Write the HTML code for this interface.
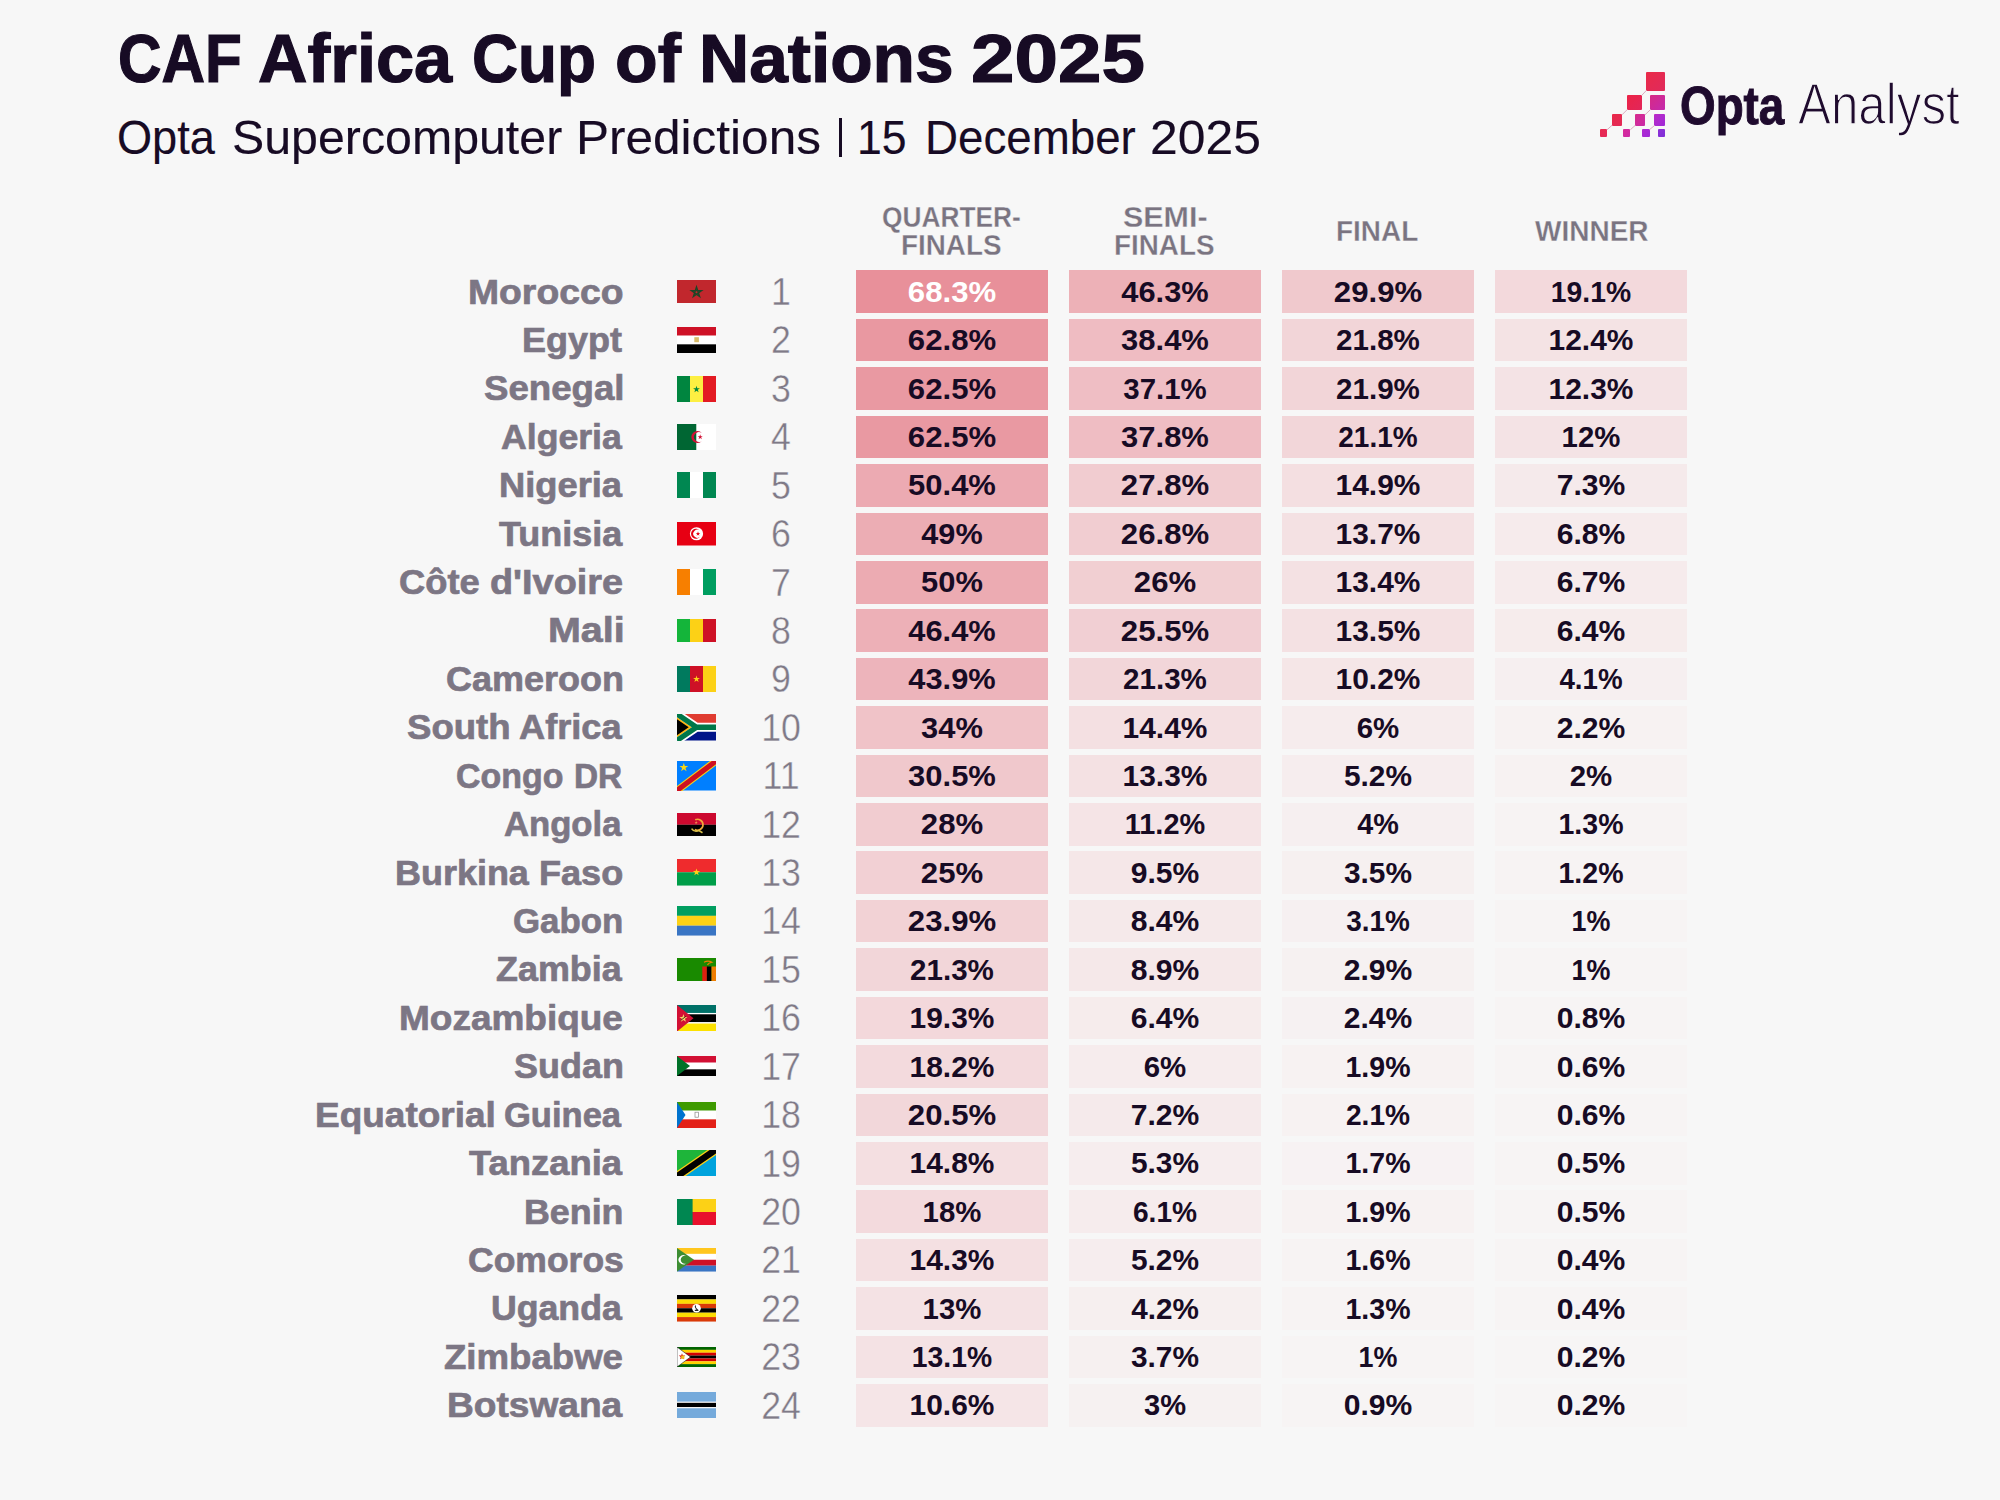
<!DOCTYPE html>
<html><head><meta charset="utf-8"><style>
html,body{margin:0;padding:0;}
body{width:2000px;height:1500px;background:#f7f7f7;position:relative;overflow:hidden;font-family:"Liberation Sans",sans-serif;}
.t{position:absolute;white-space:nowrap;transform-origin:0 0;}
.b{position:absolute;}
.rk{position:absolute;left:741px;width:80px;text-align:center;font-size:38px;line-height:38px;color:#7f7a87;-webkit-text-stroke:0.4px #f7f7f7;transform:scaleX(0.94);transform-origin:40px 0;}
.c{position:absolute;width:192px;height:42.6px;}
.c span{position:absolute;left:0;width:192px;text-align:center;font-size:30px;line-height:30px;font-weight:bold;}
.f{position:absolute;left:677px;width:39px;display:block;}
</style></head><body>
<div class="t" style="left:117.62px;top:24.34px;font-size:68px;line-height:68px;font-weight:bold;color:#170b24;transform:scaleX(0.8862);-webkit-text-stroke:1.2px #170b24">CAF</div>
<div class="t" style="left:257.93px;top:24.34px;font-size:68px;line-height:68px;font-weight:bold;color:#170b24;transform:scaleX(1.0072);-webkit-text-stroke:1.2px #170b24">Africa</div>
<div class="t" style="left:471.51px;top:24.34px;font-size:68px;line-height:68px;font-weight:bold;color:#170b24;transform:scaleX(0.9387);-webkit-text-stroke:1.2px #170b24">Cup</div>
<div class="t" style="left:614.82px;top:24.34px;font-size:68px;line-height:68px;font-weight:bold;color:#170b24;transform:scaleX(1.0273);-webkit-text-stroke:1.2px #170b24">of</div>
<div class="t" style="left:699.16px;top:24.34px;font-size:68px;line-height:68px;font-weight:bold;color:#170b24;transform:scaleX(1.0213);-webkit-text-stroke:1.2px #170b24">Nations</div>
<div class="t" style="left:971.06px;top:24.34px;font-size:68px;line-height:68px;font-weight:bold;color:#170b24;transform:scaleX(1.1495);-webkit-text-stroke:1.2px #170b24">2025</div>
<div class="t" style="left:117.38px;top:114.17px;font-size:48px;line-height:48px;font-weight:normal;color:#170b24;transform:scaleX(0.9401);-webkit-text-stroke:0.15px #170b24">Opta</div>
<div class="t" style="left:231.99px;top:114.17px;font-size:48px;line-height:48px;font-weight:normal;color:#170b24;transform:scaleX(1.0063);-webkit-text-stroke:0.15px #170b24">Supercomputer</div>
<div class="t" style="left:576.13px;top:114.17px;font-size:48px;line-height:48px;font-weight:normal;color:#170b24;transform:scaleX(1.0315);-webkit-text-stroke:0.15px #170b24">Predictions</div>
<div class="t" style="left:857.21px;top:114.17px;font-size:48px;line-height:48px;font-weight:normal;color:#170b24;transform:scaleX(0.9289);-webkit-text-stroke:0.15px #170b24">15</div>
<div class="t" style="left:925.43px;top:114.17px;font-size:48px;line-height:48px;font-weight:normal;color:#170b24;transform:scaleX(0.9520);-webkit-text-stroke:0.15px #170b24">December</div>
<div class="t" style="left:1150.16px;top:114.17px;font-size:48px;line-height:48px;font-weight:normal;color:#170b24;transform:scaleX(1.0382);-webkit-text-stroke:0.15px #170b24">2025</div>
<div class="b" style="left:839px;top:117.5px;width:3.2px;height:39px;background:#170b24"></div>
<div class="t" style="left:882.18px;top:202.85px;font-size:29px;line-height:29px;font-weight:bold;color:#7a7481;transform:scaleX(0.9068);-webkit-text-stroke:0.3px #f7f7f7">QUARTER-</div>
<div class="t" style="left:901.26px;top:230.85px;font-size:29px;line-height:29px;font-weight:bold;color:#7a7481;transform:scaleX(0.9595);-webkit-text-stroke:0.3px #f7f7f7">FINALS</div>
<div class="t" style="left:1122.52px;top:202.85px;font-size:29px;line-height:29px;font-weight:bold;color:#7a7481;transform:scaleX(1.0499);-webkit-text-stroke:0.3px #f7f7f7">SEMI-</div>
<div class="t" style="left:1114.26px;top:230.85px;font-size:29px;line-height:29px;font-weight:bold;color:#7a7481;transform:scaleX(0.9595);-webkit-text-stroke:0.3px #f7f7f7">FINALS</div>
<div class="t" style="left:1336.25px;top:217.05px;font-size:29px;line-height:29px;font-weight:bold;color:#7a7481;transform:scaleX(0.9631);-webkit-text-stroke:0.3px #f7f7f7">FINAL</div>
<div class="t" style="left:1535.00px;top:217.05px;font-size:29px;line-height:29px;font-weight:bold;color:#7a7481;transform:scaleX(0.9654);-webkit-text-stroke:0.3px #f7f7f7">WINNER</div>
<div class="b" style="left:1646.1px;top:72.2px;width:18.7px;height:18.4px;background:linear-gradient(135deg,#ea2a48,#e02a5c);border-radius:1px"></div>
<div class="b" style="left:1626.8px;top:95.1px;width:15.0px;height:14.8px;background:linear-gradient(135deg,#ec2346,#e2265a);border-radius:1px"></div>
<div class="b" style="left:1650.1px;top:95.1px;width:14.7px;height:14.8px;background:linear-gradient(135deg,#d72a84,#c42aae);border-radius:1px"></div>
<div class="b" style="left:1611.5px;top:114.4px;width:10.8px;height:11.3px;background:linear-gradient(135deg,#ea2848,#e22a58);border-radius:1px"></div>
<div class="b" style="left:1634.8px;top:114.4px;width:10.4px;height:11.3px;background:linear-gradient(135deg,#d82a8c,#c82aa8);border-radius:1px"></div>
<div class="b" style="left:1654.3px;top:114.4px;width:10.5px;height:11.3px;background:linear-gradient(135deg,#bb2ac6,#9f2ad8);border-radius:1px"></div>
<div class="b" style="left:1600.1px;top:129.4px;width:7.4px;height:7.6px;background:linear-gradient(135deg,#ea2a50,#e42a5a);border-radius:1px"></div>
<div class="b" style="left:1623.1px;top:129.4px;width:7.4px;height:7.6px;background:linear-gradient(135deg,#d82a98,#cc2aa8);border-radius:1px"></div>
<div class="b" style="left:1642.4px;top:129.4px;width:7.4px;height:7.6px;background:linear-gradient(135deg,#b02ad0,#a02ad8);border-radius:1px"></div>
<div class="b" style="left:1657.7px;top:129.4px;width:7.4px;height:7.6px;background:linear-gradient(135deg,#9030d8,#7e30d6);border-radius:1px"></div>
<svg style="position:absolute;left:0;top:0" width="2000" height="200"><line x1="1646.6" y1="90.2" x2="1641.6" y2="95.5" stroke="#d9a3b8" stroke-width="0.9"/><line x1="1627.3" y1="109.5" x2="1622.0" y2="114.8" stroke="#d9a3b8" stroke-width="0.9"/><line x1="1612.0" y1="125.3" x2="1607.0" y2="129.8" stroke="#d9a3b8" stroke-width="0.9"/><line x1="1650.6" y1="109.5" x2="1645.0" y2="114.8" stroke="#d9a3b8" stroke-width="0.9"/><line x1="1635.3" y1="125.3" x2="1630.3" y2="129.8" stroke="#d9a3b8" stroke-width="0.9"/><line x1="1654.8" y1="125.3" x2="1649.3" y2="129.8" stroke="#d9a3b8" stroke-width="0.9"/></svg>
<div class="t" style="left:1680.37px;top:77.59px;font-size:54px;line-height:54px;font-weight:bold;color:#1f0b2e;transform:scaleX(0.8483);-webkit-text-stroke:1px #1f0b2e">Opta</div>
<div class="t" style="left:1797.50px;top:75.75px;font-size:57px;line-height:57px;font-weight:normal;color:#1f0b2e;transform:scaleX(0.8658);-webkit-text-stroke:1.4px #f7f7f7">Analyst</div>
<div class="t" style="left:467.77px;top:274.55px;font-size:35.5px;line-height:35.5px;font-weight:bold;color:#7c7684;transform:scaleX(1.0509);-webkit-text-stroke:0.7px #7c7684">Morocco</div>
<div class="rk" style="top:273.03px">1</div>
<div class="c" style="left:856px;top:270.40px;background:#e8909a;color:#ffffff"><span style="top:6.41px;transform:scaleX(1.0382)">68.3%</span></div>
<div class="c" style="left:1069px;top:270.40px;background:#edb1b7;color:#170b24"><span style="top:6.41px;transform:scaleX(1.0267)">46.3%</span></div>
<div class="c" style="left:1282px;top:270.40px;background:#f0c9cd;color:#170b24"><span style="top:6.41px;transform:scaleX(1.0382)">29.9%</span></div>
<div class="c" style="left:1495px;top:270.40px;background:#f3d9dc;color:#170b24"><span style="top:6.41px;transform:scaleX(0.9437)">19.1%</span></div>
<div class="t" style="left:522.25px;top:322.97px;font-size:35.5px;line-height:35.5px;font-weight:bold;color:#7c7684;transform:scaleX(1.0133);-webkit-text-stroke:0.7px #7c7684">Egypt</div>
<div class="rk" style="top:321.45px">2</div>
<div class="c" style="left:856px;top:318.82px;background:#e998a1;color:#170b24"><span style="top:6.41px;transform:scaleX(1.0382)">62.8%</span></div>
<div class="c" style="left:1069px;top:318.82px;background:#efbcc2;color:#170b24"><span style="top:6.41px;transform:scaleX(1.0324)">38.4%</span></div>
<div class="c" style="left:1282px;top:318.82px;background:#f2d5d8;color:#170b24"><span style="top:6.41px;transform:scaleX(0.9856)">21.8%</span></div>
<div class="c" style="left:1495px;top:318.82px;background:#f4e3e4;color:#170b24"><span style="top:6.41px;transform:scaleX(0.9968)">12.4%</span></div>
<div class="t" style="left:483.63px;top:371.39px;font-size:35.5px;line-height:35.5px;font-weight:bold;color:#7c7684;transform:scaleX(1.0323);-webkit-text-stroke:0.7px #7c7684">Senegal</div>
<div class="rk" style="top:369.87px">3</div>
<div class="c" style="left:856px;top:367.24px;background:#e999a2;color:#170b24"><span style="top:6.41px;transform:scaleX(1.0382)">62.5%</span></div>
<div class="c" style="left:1069px;top:367.24px;background:#efbec4;color:#170b24"><span style="top:6.41px;transform:scaleX(0.9802)">37.1%</span></div>
<div class="c" style="left:1282px;top:367.24px;background:#f2d5d8;color:#170b24"><span style="top:6.41px;transform:scaleX(0.9856)">21.9%</span></div>
<div class="c" style="left:1495px;top:367.24px;background:#f4e3e5;color:#170b24"><span style="top:6.41px;transform:scaleX(0.9968)">12.3%</span></div>
<div class="t" style="left:500.94px;top:419.81px;font-size:35.5px;line-height:35.5px;font-weight:bold;color:#7c7684;transform:scaleX(1.0040);-webkit-text-stroke:0.7px #7c7684">Algeria</div>
<div class="rk" style="top:418.29px">4</div>
<div class="c" style="left:856px;top:415.66px;background:#e999a2;color:#170b24"><span style="top:6.41px;transform:scaleX(1.0382)">62.5%</span></div>
<div class="c" style="left:1069px;top:415.66px;background:#efbdc3;color:#170b24"><span style="top:6.41px;transform:scaleX(1.0324)">37.8%</span></div>
<div class="c" style="left:1282px;top:415.66px;background:#f2d6d9;color:#170b24"><span style="top:6.41px;transform:scaleX(0.9331)">21.1%</span></div>
<div class="c" style="left:1495px;top:415.66px;background:#f4e3e5;color:#170b24"><span style="top:6.41px;transform:scaleX(0.9785)">12%</span></div>
<div class="t" style="left:498.73px;top:468.23px;font-size:35.5px;line-height:35.5px;font-weight:bold;color:#7c7684;transform:scaleX(1.0223);-webkit-text-stroke:0.7px #7c7684">Nigeria</div>
<div class="rk" style="top:466.71px">5</div>
<div class="c" style="left:856px;top:464.08px;background:#ecaab2;color:#170b24"><span style="top:6.41px;transform:scaleX(1.0324)">50.4%</span></div>
<div class="c" style="left:1069px;top:464.08px;background:#f1ccd0;color:#170b24"><span style="top:6.41px;transform:scaleX(1.0382)">27.8%</span></div>
<div class="c" style="left:1282px;top:464.08px;background:#f4dfe1;color:#170b24"><span style="top:6.41px;transform:scaleX(0.9968)">14.9%</span></div>
<div class="c" style="left:1495px;top:464.08px;background:#f5eaeb;color:#170b24"><span style="top:6.41px;transform:scaleX(1.0027)">7.3%</span></div>
<div class="t" style="left:498.60px;top:516.65px;font-size:35.5px;line-height:35.5px;font-weight:bold;color:#7c7684;transform:scaleX(1.0127);-webkit-text-stroke:0.7px #7c7684">Tunisia</div>
<div class="rk" style="top:515.13px">6</div>
<div class="c" style="left:856px;top:512.50px;background:#ecadb4;color:#170b24"><span style="top:6.41px;transform:scaleX(1.0215)">49%</span></div>
<div class="c" style="left:1069px;top:512.50px;background:#f1cdd1;color:#170b24"><span style="top:6.41px;transform:scaleX(1.0382)">26.8%</span></div>
<div class="c" style="left:1282px;top:512.50px;background:#f4e1e3;color:#170b24"><span style="top:6.41px;transform:scaleX(0.9968)">13.7%</span></div>
<div class="c" style="left:1495px;top:512.50px;background:#f6ebec;color:#170b24"><span style="top:6.41px;transform:scaleX(1.0027)">6.8%</span></div>
<div class="t" style="left:399.46px;top:565.07px;font-size:35.5px;line-height:35.5px;font-weight:bold;color:#7c7684;transform:scaleX(1.0235);-webkit-text-stroke:0.7px #7c7684">Côte</div>
<div class="t" style="left:489.82px;top:565.07px;font-size:35.5px;line-height:35.5px;font-weight:bold;color:#7c7684;transform:scaleX(1.0656);-webkit-text-stroke:0.7px #7c7684">d&#39;Ivoire</div>
<div class="rk" style="top:563.55px">7</div>
<div class="c" style="left:856px;top:560.92px;background:#ecabb2;color:#170b24"><span style="top:6.41px;transform:scaleX(1.0296)">50%</span></div>
<div class="c" style="left:1069px;top:560.92px;background:#f1cfd2;color:#170b24"><span style="top:6.41px;transform:scaleX(1.0378)">26%</span></div>
<div class="c" style="left:1282px;top:560.92px;background:#f4e1e3;color:#170b24"><span style="top:6.41px;transform:scaleX(0.9968)">13.4%</span></div>
<div class="c" style="left:1495px;top:560.92px;background:#f6ebec;color:#170b24"><span style="top:6.41px;transform:scaleX(1.0027)">6.7%</span></div>
<div class="t" style="left:547.64px;top:613.49px;font-size:35.5px;line-height:35.5px;font-weight:bold;color:#7c7684;transform:scaleX(1.1109);-webkit-text-stroke:0.7px #7c7684">Mali</div>
<div class="rk" style="top:611.97px">8</div>
<div class="c" style="left:856px;top:609.34px;background:#edb0b7;color:#170b24"><span style="top:6.41px;transform:scaleX(1.0267)">46.4%</span></div>
<div class="c" style="left:1069px;top:609.34px;background:#f1cfd3;color:#170b24"><span style="top:6.41px;transform:scaleX(1.0382)">25.5%</span></div>
<div class="c" style="left:1282px;top:609.34px;background:#f4e1e3;color:#170b24"><span style="top:6.41px;transform:scaleX(0.9968)">13.5%</span></div>
<div class="c" style="left:1495px;top:609.34px;background:#f6ecec;color:#170b24"><span style="top:6.41px;transform:scaleX(1.0027)">6.4%</span></div>
<div class="t" style="left:445.78px;top:661.91px;font-size:35.5px;line-height:35.5px;font-weight:bold;color:#7c7684;transform:scaleX(1.0137);-webkit-text-stroke:0.7px #7c7684">Cameroon</div>
<div class="rk" style="top:660.39px">9</div>
<div class="c" style="left:856px;top:657.76px;background:#edb4bb;color:#170b24"><span style="top:6.41px;transform:scaleX(1.0267)">43.9%</span></div>
<div class="c" style="left:1069px;top:657.76px;background:#f2d6d9;color:#170b24"><span style="top:6.41px;transform:scaleX(0.9856)">21.3%</span></div>
<div class="c" style="left:1282px;top:657.76px;background:#f5e6e7;color:#170b24"><span style="top:6.41px;transform:scaleX(0.9968)">10.2%</span></div>
<div class="c" style="left:1495px;top:657.76px;background:#f6eff0;color:#170b24"><span style="top:6.41px;transform:scaleX(0.9242)">4.1%</span></div>
<div class="t" style="left:406.93px;top:710.33px;font-size:35.5px;line-height:35.5px;font-weight:bold;color:#7c7684;transform:scaleX(1.0307);-webkit-text-stroke:0.7px #7c7684">South</div>
<div class="t" style="left:519.03px;top:710.33px;font-size:35.5px;line-height:35.5px;font-weight:bold;color:#7c7684;transform:scaleX(1.0200);-webkit-text-stroke:0.7px #7c7684">Africa</div>
<div class="rk" style="top:708.81px">10</div>
<div class="c" style="left:856px;top:706.18px;background:#f0c3c8;color:#170b24"><span style="top:6.41px;transform:scaleX(1.0296)">34%</span></div>
<div class="c" style="left:1069px;top:706.18px;background:#f4e0e2;color:#170b24"><span style="top:6.41px;transform:scaleX(0.9968)">14.4%</span></div>
<div class="c" style="left:1282px;top:706.18px;background:#f6eced;color:#170b24"><span style="top:6.41px;transform:scaleX(0.9810)">6%</span></div>
<div class="c" style="left:1495px;top:706.18px;background:#f7f2f2;color:#170b24"><span style="top:6.41px;transform:scaleX(1.0027)">2.2%</span></div>
<div class="t" style="left:455.64px;top:758.75px;font-size:35.5px;line-height:35.5px;font-weight:bold;color:#7c7684;transform:scaleX(0.9554);-webkit-text-stroke:0.7px #7c7684">Congo</div>
<div class="t" style="left:573.61px;top:758.75px;font-size:35.5px;line-height:35.5px;font-weight:bold;color:#7c7684;transform:scaleX(0.9405);-webkit-text-stroke:0.7px #7c7684">DR</div>
<div class="rk" style="top:757.23px">11</div>
<div class="c" style="left:856px;top:754.60px;background:#f0c8cc;color:#170b24"><span style="top:6.41px;transform:scaleX(1.0324)">30.5%</span></div>
<div class="c" style="left:1069px;top:754.60px;background:#f4e1e3;color:#170b24"><span style="top:6.41px;transform:scaleX(0.9968)">13.3%</span></div>
<div class="c" style="left:1282px;top:754.60px;background:#f6edee;color:#170b24"><span style="top:6.41px;transform:scaleX(0.9958)">5.2%</span></div>
<div class="c" style="left:1495px;top:754.60px;background:#f7f2f2;color:#170b24"><span style="top:6.41px;transform:scaleX(0.9810)">2%</span></div>
<div class="t" style="left:504.36px;top:807.17px;font-size:35.5px;line-height:35.5px;font-weight:bold;color:#7c7684;transform:scaleX(0.9761);-webkit-text-stroke:0.7px #7c7684">Angola</div>
<div class="rk" style="top:805.65px">12</div>
<div class="c" style="left:856px;top:803.02px;background:#f1ccd0;color:#170b24"><span style="top:6.41px;transform:scaleX(1.0378)">28%</span></div>
<div class="c" style="left:1069px;top:803.02px;background:#f5e4e6;color:#170b24"><span style="top:6.41px;transform:scaleX(0.9629)">11.2%</span></div>
<div class="c" style="left:1282px;top:803.02px;background:#f6eff0;color:#170b24"><span style="top:6.41px;transform:scaleX(0.9596)">4%</span></div>
<div class="c" style="left:1495px;top:803.02px;background:#f7f3f3;color:#170b24"><span style="top:6.41px;transform:scaleX(0.9504)">1.3%</span></div>
<div class="t" style="left:395.05px;top:855.59px;font-size:35.5px;line-height:35.5px;font-weight:bold;color:#7c7684;transform:scaleX(1.0125);-webkit-text-stroke:0.7px #7c7684">Burkina</div>
<div class="t" style="left:538.64px;top:855.59px;font-size:35.5px;line-height:35.5px;font-weight:bold;color:#7c7684;transform:scaleX(1.0167);-webkit-text-stroke:0.7px #7c7684">Faso</div>
<div class="rk" style="top:854.07px">13</div>
<div class="c" style="left:856px;top:851.44px;background:#f2d0d4;color:#170b24"><span style="top:6.41px;transform:scaleX(1.0378)">25%</span></div>
<div class="c" style="left:1069px;top:851.44px;background:#f5e7e8;color:#170b24"><span style="top:6.41px;transform:scaleX(1.0027)">9.5%</span></div>
<div class="c" style="left:1282px;top:851.44px;background:#f6f0f0;color:#170b24"><span style="top:6.41px;transform:scaleX(0.9958)">3.5%</span></div>
<div class="c" style="left:1495px;top:851.44px;background:#f7f3f3;color:#170b24"><span style="top:6.41px;transform:scaleX(0.9504)">1.2%</span></div>
<div class="t" style="left:513.31px;top:904.01px;font-size:35.5px;line-height:35.5px;font-weight:bold;color:#7c7684;transform:scaleX(0.9819);-webkit-text-stroke:0.7px #7c7684">Gabon</div>
<div class="rk" style="top:902.49px">14</div>
<div class="c" style="left:856px;top:899.86px;background:#f2d2d5;color:#170b24"><span style="top:6.41px;transform:scaleX(1.0382)">23.9%</span></div>
<div class="c" style="left:1069px;top:899.86px;background:#f5e9ea;color:#170b24"><span style="top:6.41px;transform:scaleX(1.0027)">8.4%</span></div>
<div class="c" style="left:1282px;top:899.86px;background:#f6f0f1;color:#170b24"><span style="top:6.41px;transform:scaleX(0.9306)">3.1%</span></div>
<div class="c" style="left:1495px;top:899.86px;background:#f7f4f4;color:#170b24"><span style="top:6.41px;transform:scaleX(0.8963)">1%</span></div>
<div class="t" style="left:496.14px;top:952.43px;font-size:35.5px;line-height:35.5px;font-weight:bold;color:#7c7684;transform:scaleX(1.0108);-webkit-text-stroke:0.7px #7c7684">Zambia</div>
<div class="rk" style="top:950.91px">15</div>
<div class="c" style="left:856px;top:948.28px;background:#f2d6d9;color:#170b24"><span style="top:6.41px;transform:scaleX(0.9856)">21.3%</span></div>
<div class="c" style="left:1069px;top:948.28px;background:#f5e8e9;color:#170b24"><span style="top:6.41px;transform:scaleX(1.0027)">8.9%</span></div>
<div class="c" style="left:1282px;top:948.28px;background:#f6f1f1;color:#170b24"><span style="top:6.41px;transform:scaleX(1.0027)">2.9%</span></div>
<div class="c" style="left:1495px;top:948.28px;background:#f7f4f4;color:#170b24"><span style="top:6.41px;transform:scaleX(0.8963)">1%</span></div>
<div class="t" style="left:398.99px;top:1000.85px;font-size:35.5px;line-height:35.5px;font-weight:bold;color:#7c7684;transform:scaleX(1.0417);-webkit-text-stroke:0.7px #7c7684">Mozambique</div>
<div class="rk" style="top:999.33px">16</div>
<div class="c" style="left:856px;top:996.70px;background:#f3d8db;color:#170b24"><span style="top:6.41px;transform:scaleX(0.9968)">19.3%</span></div>
<div class="c" style="left:1069px;top:996.70px;background:#f6ecec;color:#170b24"><span style="top:6.41px;transform:scaleX(1.0027)">6.4%</span></div>
<div class="c" style="left:1282px;top:996.70px;background:#f6f1f2;color:#170b24"><span style="top:6.41px;transform:scaleX(1.0027)">2.4%</span></div>
<div class="c" style="left:1495px;top:996.70px;background:#f7f4f4;color:#170b24"><span style="top:6.41px;transform:scaleX(1.0027)">0.8%</span></div>
<div class="t" style="left:513.84px;top:1049.27px;font-size:35.5px;line-height:35.5px;font-weight:bold;color:#7c7684;transform:scaleX(1.0131);-webkit-text-stroke:0.7px #7c7684">Sudan</div>
<div class="rk" style="top:1047.75px">17</div>
<div class="c" style="left:856px;top:1045.12px;background:#f3dadd;color:#170b24"><span style="top:6.41px;transform:scaleX(0.9968)">18.2%</span></div>
<div class="c" style="left:1069px;top:1045.12px;background:#f6eced;color:#170b24"><span style="top:6.41px;transform:scaleX(0.9810)">6%</span></div>
<div class="c" style="left:1282px;top:1045.12px;background:#f7f2f2;color:#170b24"><span style="top:6.41px;transform:scaleX(0.9504)">1.9%</span></div>
<div class="c" style="left:1495px;top:1045.12px;background:#f7f4f4;color:#170b24"><span style="top:6.41px;transform:scaleX(1.0027)">0.6%</span></div>
<div class="t" style="left:314.99px;top:1097.69px;font-size:35.5px;line-height:35.5px;font-weight:bold;color:#7c7684;transform:scaleX(1.0421);-webkit-text-stroke:0.7px #7c7684">Equatorial</div>
<div class="t" style="left:504.42px;top:1097.69px;font-size:35.5px;line-height:35.5px;font-weight:bold;color:#7c7684;transform:scaleX(0.9728);-webkit-text-stroke:0.7px #7c7684">Guinea</div>
<div class="rk" style="top:1096.17px">18</div>
<div class="c" style="left:856px;top:1093.54px;background:#f2d7da;color:#170b24"><span style="top:6.41px;transform:scaleX(1.0382)">20.5%</span></div>
<div class="c" style="left:1069px;top:1093.54px;background:#f5eaeb;color:#170b24"><span style="top:6.41px;transform:scaleX(1.0027)">7.2%</span></div>
<div class="c" style="left:1282px;top:1093.54px;background:#f7f2f2;color:#170b24"><span style="top:6.41px;transform:scaleX(0.9371)">2.1%</span></div>
<div class="c" style="left:1495px;top:1093.54px;background:#f7f4f4;color:#170b24"><span style="top:6.41px;transform:scaleX(1.0027)">0.6%</span></div>
<div class="t" style="left:468.70px;top:1146.11px;font-size:35.5px;line-height:35.5px;font-weight:bold;color:#7c7684;transform:scaleX(1.0255);-webkit-text-stroke:0.7px #7c7684">Tanzania</div>
<div class="rk" style="top:1144.59px">19</div>
<div class="c" style="left:856px;top:1141.96px;background:#f4dfe1;color:#170b24"><span style="top:6.41px;transform:scaleX(0.9968)">14.8%</span></div>
<div class="c" style="left:1069px;top:1141.96px;background:#f6edee;color:#170b24"><span style="top:6.41px;transform:scaleX(0.9958)">5.3%</span></div>
<div class="c" style="left:1282px;top:1141.96px;background:#f7f2f3;color:#170b24"><span style="top:6.41px;transform:scaleX(0.9504)">1.7%</span></div>
<div class="c" style="left:1495px;top:1141.96px;background:#f7f4f4;color:#170b24"><span style="top:6.41px;transform:scaleX(1.0027)">0.5%</span></div>
<div class="t" style="left:524.26px;top:1194.53px;font-size:35.5px;line-height:35.5px;font-weight:bold;color:#7c7684;transform:scaleX(1.0087);-webkit-text-stroke:0.7px #7c7684">Benin</div>
<div class="rk" style="top:1193.01px">20</div>
<div class="c" style="left:856px;top:1190.38px;background:#f3dadd;color:#170b24"><span style="top:6.41px;transform:scaleX(0.9785)">18%</span></div>
<div class="c" style="left:1069px;top:1190.38px;background:#f6eced;color:#170b24"><span style="top:6.41px;transform:scaleX(0.9371)">6.1%</span></div>
<div class="c" style="left:1282px;top:1190.38px;background:#f7f2f2;color:#170b24"><span style="top:6.41px;transform:scaleX(0.9504)">1.9%</span></div>
<div class="c" style="left:1495px;top:1190.38px;background:#f7f4f4;color:#170b24"><span style="top:6.41px;transform:scaleX(1.0027)">0.5%</span></div>
<div class="t" style="left:467.59px;top:1242.95px;font-size:35.5px;line-height:35.5px;font-weight:bold;color:#7c7684;transform:scaleX(1.0002);-webkit-text-stroke:0.7px #7c7684">Comoros</div>
<div class="rk" style="top:1241.43px">21</div>
<div class="c" style="left:856px;top:1238.80px;background:#f4e0e2;color:#170b24"><span style="top:6.41px;transform:scaleX(0.9968)">14.3%</span></div>
<div class="c" style="left:1069px;top:1238.80px;background:#f6edee;color:#170b24"><span style="top:6.41px;transform:scaleX(0.9958)">5.2%</span></div>
<div class="c" style="left:1282px;top:1238.80px;background:#f7f3f3;color:#170b24"><span style="top:6.41px;transform:scaleX(0.9504)">1.6%</span></div>
<div class="c" style="left:1495px;top:1238.80px;background:#f7f4f4;color:#170b24"><span style="top:6.41px;transform:scaleX(1.0027)">0.4%</span></div>
<div class="t" style="left:491.03px;top:1291.37px;font-size:35.5px;line-height:35.5px;font-weight:bold;color:#7c7684;transform:scaleX(1.0044);-webkit-text-stroke:0.7px #7c7684">Uganda</div>
<div class="rk" style="top:1289.85px">22</div>
<div class="c" style="left:856px;top:1287.22px;background:#f4e2e4;color:#170b24"><span style="top:6.41px;transform:scaleX(0.9785)">13%</span></div>
<div class="c" style="left:1069px;top:1287.22px;background:#f6efef;color:#170b24"><span style="top:6.41px;transform:scaleX(0.9889)">4.2%</span></div>
<div class="c" style="left:1282px;top:1287.22px;background:#f7f3f3;color:#170b24"><span style="top:6.41px;transform:scaleX(0.9504)">1.3%</span></div>
<div class="c" style="left:1495px;top:1287.22px;background:#f7f4f4;color:#170b24"><span style="top:6.41px;transform:scaleX(1.0027)">0.4%</span></div>
<div class="t" style="left:443.93px;top:1339.79px;font-size:35.5px;line-height:35.5px;font-weight:bold;color:#7c7684;transform:scaleX(1.0311);-webkit-text-stroke:0.7px #7c7684">Zimbabwe</div>
<div class="rk" style="top:1338.27px">23</div>
<div class="c" style="left:856px;top:1335.64px;background:#f4e2e4;color:#170b24"><span style="top:6.41px;transform:scaleX(0.9437)">13.1%</span></div>
<div class="c" style="left:1069px;top:1335.64px;background:#f6f0f0;color:#170b24"><span style="top:6.41px;transform:scaleX(0.9958)">3.7%</span></div>
<div class="c" style="left:1282px;top:1335.64px;background:#f7f4f4;color:#170b24"><span style="top:6.41px;transform:scaleX(0.8963)">1%</span></div>
<div class="c" style="left:1495px;top:1335.64px;background:#f7f5f5;color:#170b24"><span style="top:6.41px;transform:scaleX(1.0027)">0.2%</span></div>
<div class="t" style="left:446.58px;top:1388.21px;font-size:35.5px;line-height:35.5px;font-weight:bold;color:#7c7684;transform:scaleX(1.0448);-webkit-text-stroke:0.7px #7c7684">Botswana</div>
<div class="rk" style="top:1386.69px">24</div>
<div class="c" style="left:856px;top:1384.06px;background:#f5e5e7;color:#170b24"><span style="top:6.41px;transform:scaleX(0.9968)">10.6%</span></div>
<div class="c" style="left:1069px;top:1384.06px;background:#f6f1f1;color:#170b24"><span style="top:6.41px;transform:scaleX(0.9702)">3%</span></div>
<div class="c" style="left:1282px;top:1384.06px;background:#f7f4f4;color:#170b24"><span style="top:6.41px;transform:scaleX(1.0027)">0.9%</span></div>
<div class="c" style="left:1495px;top:1384.06px;background:#f7f5f5;color:#170b24"><span style="top:6.41px;transform:scaleX(1.0027)">0.2%</span></div>
<svg class="f" style="top:279.95px;height:23.5px" width="39" height="23.5" viewBox="0 0 39 23.5" preserveAspectRatio="none"><rect x="0.00" y="0.00" width="39.00" height="23.50" fill="#c1272d"/><polygon points="19.50,7.05 22.56,16.46 14.55,10.64 24.45,10.64 16.44,16.46" fill="none" stroke="#1d4526" stroke-width="1.40" stroke-linejoin="miter"/></svg>
<svg class="f" style="top:327.12px;height:26.0px" width="39" height="26.0" viewBox="0 0 39 26.0" preserveAspectRatio="none"><rect x="0.00" y="0.00" width="39.00" height="8.72" fill="#ce1126"/><rect x="0.00" y="8.67" width="39.00" height="8.72" fill="#ffffff"/><rect x="0.00" y="17.33" width="39.00" height="8.72" fill="#000000"/><rect x="17.3" y="10.2" width="4.6" height="5" fill="#d9bd6a"/></svg>
<svg class="f" style="top:375.54px;height:26.0px" width="39" height="26.0" viewBox="0 0 39 26.0" preserveAspectRatio="none"><rect x="0.00" y="0.00" width="13.05" height="26.00" fill="#00853f"/><rect x="13.00" y="0.00" width="13.05" height="26.00" fill="#fdef42"/><rect x="26.00" y="0.00" width="13.05" height="26.00" fill="#e31b23"/><polygon points="19.50,9.70 20.31,12.19 22.92,12.19 20.81,13.72 21.62,16.21 19.50,14.68 17.38,16.21 18.19,13.72 16.08,12.19 18.69,12.19" fill="#00853f"/></svg>
<svg class="f" style="top:423.96px;height:26.0px" width="39" height="26.0" viewBox="0 0 39 26.0" preserveAspectRatio="none"><rect x="0.00" y="0.00" width="19.55" height="26.00" fill="#006633"/><rect x="19.50" y="0.00" width="19.55" height="26.00" fill="#ffffff"/><path d="M 24.847 9.085 A 6.000 6.000 0 1 0 24.847 16.915 A 4.900 4.900 0 1 1 24.847 9.085 Z" fill="#d21034"/><polygon points="20.63,12.17 22.59,12.17 23.20,10.30 23.81,12.17 25.77,12.17 24.18,13.32 24.79,15.18 23.20,14.03 21.61,15.18 22.22,13.32" fill="#d21034"/></svg>
<svg class="f" style="top:472.38px;height:26.0px" width="39" height="26.0" viewBox="0 0 39 26.0" preserveAspectRatio="none"><rect x="0.00" y="0.00" width="13.05" height="26.00" fill="#008751"/><rect x="13.00" y="0.00" width="13.05" height="26.00" fill="#ffffff"/><rect x="26.00" y="0.00" width="13.05" height="26.00" fill="#008751"/></svg>
<svg class="f" style="top:522.05px;height:23.5px" width="39" height="23.5" viewBox="0 0 39 23.5" preserveAspectRatio="none"><rect x="0.00" y="0.00" width="39.00" height="23.50" fill="#e70013"/><circle cx="19.5" cy="11.75" r="6.6" fill="#fff"/><path d="M 23.112 8.905 A 5.000 5.000 0 1 0 23.112 14.595 A 4.000 4.000 0 1 1 23.112 8.905 Z" fill="#e70013"/><polygon points="23.28,11.01 21.87,12.03 22.41,13.69 21.00,12.67 19.59,13.69 20.13,12.03 18.72,11.01 20.46,11.01 21.00,9.35 21.54,11.01" fill="#e70013"/></svg>
<svg class="f" style="top:569.22px;height:26.0px" width="39" height="26.0" viewBox="0 0 39 26.0" preserveAspectRatio="none"><rect x="0.00" y="0.00" width="13.05" height="26.00" fill="#f77f00"/><rect x="13.00" y="0.00" width="13.05" height="26.00" fill="#ffffff"/><rect x="26.00" y="0.00" width="13.05" height="26.00" fill="#009e60"/></svg>
<svg class="f" style="top:618.89px;height:23.5px" width="39" height="23.5" viewBox="0 0 39 23.5" preserveAspectRatio="none"><rect x="0.00" y="0.00" width="13.05" height="23.50" fill="#14b53a"/><rect x="13.00" y="0.00" width="13.05" height="23.50" fill="#fcd116"/><rect x="26.00" y="0.00" width="13.05" height="23.50" fill="#ce1126"/></svg>
<svg class="f" style="top:666.06px;height:26.0px" width="39" height="26.0" viewBox="0 0 39 26.0" preserveAspectRatio="none"><rect x="0.00" y="0.00" width="13.05" height="26.00" fill="#007a5e"/><rect x="13.00" y="0.00" width="13.05" height="26.00" fill="#ce1126"/><rect x="26.00" y="0.00" width="13.05" height="26.00" fill="#fcd116"/><polygon points="19.50,9.40 20.31,11.89 22.92,11.89 20.81,13.42 21.62,15.91 19.50,14.38 17.38,15.91 18.19,13.42 16.08,11.89 18.69,11.89" fill="#fcd116"/></svg>
<svg class="f" style="top:714.23px;height:26.5px" width="39" height="26.5" viewBox="0 0 39 26.5" preserveAspectRatio="none"><g transform="scale(4.33333,4.41667)"><rect width="9" height="6" fill="#001489"/><rect width="9" height="3" fill="#e03c31"/><path d="M0,0 L4.5,3 L0,6 M4.5,3 H9" stroke="#fff" stroke-width="2" fill="none"/><path d="M0,0.721 L3.418,3 L0,5.279 Z" fill="#ffb612"/><path d="M0,0 L4.5,3 L0,6 M4.5,3 H9" stroke="#007749" stroke-width="1.2" fill="none"/><path d="M0,1.202 L2.697,3 L0,4.798 Z" fill="#000"/></g></svg>
<svg class="f" style="top:761.15px;height:29.5px" width="39" height="29.5" viewBox="0 0 39 29.5" preserveAspectRatio="none"><g transform="scale(0.04875,0.04917)"><rect width="800" height="600" fill="#007fff"/><path d="M-20,615 L820,-15" stroke="#f7d618" stroke-width="150" fill="none"/><path d="M-20,615 L820,-15" stroke="#ce1021" stroke-width="105" fill="none"/><polygon points="140.00,35.00 161.33,100.64 230.35,100.64 174.51,141.21 195.84,206.86 140.00,166.29 84.16,206.86 105.49,141.21 49.65,100.64 118.67,100.64" fill="#f7d618"/></g></svg>
<svg class="f" style="top:812.57px;height:23.5px" width="39" height="23.5" viewBox="0 0 39 23.5" preserveAspectRatio="none"><rect x="0.00" y="0.00" width="39.00" height="11.80" fill="#cc092f"/><rect x="0.00" y="11.75" width="39.00" height="11.80" fill="#000000"/><path d="M 18.2 6.8 A 5.5 5.5 0 1 1 17.8 16.6" stroke="#f2a93b" stroke-width="1.7" fill="none"/><path d="M 14.6 15.6 Q 17.2 19.6 22 17.6 L 25.5 19.8" stroke="#d8c048" stroke-width="1.6" fill="none"/><polygon points="19.20,7.90 19.58,9.07 20.82,9.07 19.82,9.80 20.20,10.98 19.20,10.25 18.20,10.98 18.58,9.80 17.58,9.07 18.82,9.07" fill="#f08a50"/></svg>
<svg class="f" style="top:859.49px;height:26.5px" width="39" height="26.5" viewBox="0 0 39 26.5" preserveAspectRatio="none"><rect x="0.00" y="0.00" width="39.00" height="13.30" fill="#ef2b2d"/><rect x="0.00" y="13.25" width="39.00" height="13.30" fill="#009e49"/><polygon points="19.50,9.45 20.35,12.08 23.11,12.08 20.88,13.70 21.73,16.32 19.50,14.70 17.27,16.32 18.12,13.70 15.89,12.08 18.65,12.08" fill="#fcd116"/></svg>
<svg class="f" style="top:906.41px;height:29.5px" width="39" height="29.5" viewBox="0 0 39 29.5" preserveAspectRatio="none"><rect x="0.00" y="0.00" width="39.00" height="9.88" fill="#009e60"/><rect x="0.00" y="9.83" width="39.00" height="9.88" fill="#fcd116"/><rect x="0.00" y="19.67" width="39.00" height="9.88" fill="#3a75c4"/></svg>
<svg class="f" style="top:957.83px;height:23.5px" width="39" height="23.5" viewBox="0 0 39 23.5" preserveAspectRatio="none"><rect x="0.00" y="0.00" width="39.00" height="23.50" fill="#198a00"/><rect x="25.30" y="8.50" width="4.60" height="15.00" fill="#de2010"/><rect x="29.90" y="8.50" width="4.60" height="15.00" fill="#000"/><rect x="34.50" y="8.50" width="4.50" height="15.00" fill="#ef7d00"/><path d="M 27 4.2 Q 31 2 35 4.2 Q 31 5 30.5 7" stroke="#ef7d00" stroke-width="1.1" fill="none"/></svg>
<svg class="f" style="top:1004.75px;height:26.5px" width="39" height="26.5" viewBox="0 0 39 26.5" preserveAspectRatio="none"><rect x="0.00" y="0.00" width="39.00" height="8.00" fill="#007168"/><rect x="0.00" y="7.95" width="39.00" height="1.38" fill="#ffffff"/><rect x="0.00" y="9.28" width="39.00" height="8.00" fill="#000000"/><rect x="0.00" y="17.23" width="39.00" height="1.38" fill="#ffffff"/><rect x="0.00" y="18.55" width="39.00" height="8.00" fill="#fce100"/><path d="M0,0 L16.5,13.25 L0,26.50 Z" fill="#d21034"/><polygon points="6.40,8.95 7.37,11.92 10.49,11.92 7.96,13.76 8.93,16.73 6.40,14.89 3.87,16.73 4.84,13.76 2.31,11.92 5.43,11.92" fill="#f7d56a"/><path d="M3.8,15.3 L9,11.3" stroke="#3a2a10" stroke-width="0.9"/></svg>
<svg class="f" style="top:1056.42px;height:20.0px" width="39" height="20.0" viewBox="0 0 39 20.0" preserveAspectRatio="none"><rect x="0.00" y="0.00" width="39.00" height="6.72" fill="#d21034"/><rect x="0.00" y="6.67" width="39.00" height="6.72" fill="#ffffff"/><rect x="0.00" y="13.33" width="39.00" height="6.72" fill="#000000"/><path d="M0,0 L13,10.00 L0,20.00 Z" fill="#007229"/></svg>
<svg class="f" style="top:1101.84px;height:26.0px" width="39" height="26.0" viewBox="0 0 39 26.0" preserveAspectRatio="none"><rect x="0.00" y="0.00" width="39.00" height="8.72" fill="#3e9a00"/><rect x="0.00" y="8.67" width="39.00" height="8.72" fill="#ffffff"/><rect x="0.00" y="17.33" width="39.00" height="8.72" fill="#e32118"/><path d="M0,0 L8.5,13 L0,26 Z" fill="#0073ce"/><rect x="18" y="10.2" width="3.5" height="5" fill="none" stroke="#888" stroke-width="0.7"/></svg>
<svg class="f" style="top:1150.26px;height:26.0px" width="39" height="26.0" viewBox="0 0 39 26.0" preserveAspectRatio="none"><g transform="scale(0.04333,0.04333)"><path d="M0,0 H900 L0,600 Z" fill="#1eb53a"/><path d="M900,0 V600 H0 Z" fill="#00a3dd"/><path d="M-30,630 L930,-30" stroke="#fcd116" stroke-width="210" fill="none"/><path d="M-30,630 L930,-30" stroke="#000" stroke-width="150" fill="none"/></g></svg>
<svg class="f" style="top:1198.68px;height:26.0px" width="39" height="26.0" viewBox="0 0 39 26.0" preserveAspectRatio="none"><rect x="0.00" y="0.00" width="39.00" height="13.00" fill="#fcd116"/><rect x="0.00" y="13.00" width="39.00" height="13.00" fill="#e8112d"/><rect x="0.00" y="0.00" width="15.60" height="26.00" fill="#008751"/></svg>
<svg class="f" style="top:1248.35px;height:23.5px" width="39" height="23.5" viewBox="0 0 39 23.5" preserveAspectRatio="none"><rect x="0.00" y="0.00" width="39.00" height="5.92" fill="#ffc61e"/><rect x="0.00" y="5.88" width="39.00" height="5.92" fill="#ffffff"/><rect x="0.00" y="11.75" width="39.00" height="5.92" fill="#ce1126"/><rect x="0.00" y="17.62" width="39.00" height="5.92" fill="#3a75c4"/><path d="M0,0 L17,11.75 L0,23.50 Z" fill="#3d8e33"/><path d="M 9.025 8.120 A 4.600 4.600 0 1 0 9.025 15.380 A 3.900 3.900 0 1 1 9.025 8.120 Z" fill="#fff"/></svg>
<svg class="f" style="top:1295.27px;height:26.5px" width="39" height="26.5" viewBox="0 0 39 26.5" preserveAspectRatio="none"><rect x="0.00" y="0.00" width="39.00" height="4.47" fill="#000"/><rect x="0.00" y="4.42" width="39.00" height="4.47" fill="#fcdc04"/><rect x="0.00" y="8.83" width="39.00" height="4.47" fill="#da3a08"/><rect x="0.00" y="13.25" width="39.00" height="4.47" fill="#000"/><rect x="0.00" y="17.67" width="39.00" height="4.47" fill="#fcdc04"/><rect x="0.00" y="22.08" width="39.00" height="4.47" fill="#da3a08"/><circle cx="19.5" cy="13.25" r="4.3" fill="#fff"/><path d="M18.6,10.6 Q17.6,12.5 19.2,13.6 L21.2,15.6 M17.8,15.4 L21.4,15.4" stroke="#222" stroke-width="1.1" fill="none"/></svg>
<svg class="f" style="top:1346.94px;height:20.0px" width="39" height="20.0" viewBox="0 0 39 20.0" preserveAspectRatio="none"><rect x="0.00" y="0.00" width="39.00" height="2.91" fill="#006400"/><rect x="0.00" y="2.86" width="39.00" height="2.91" fill="#ffd200"/><rect x="0.00" y="5.71" width="39.00" height="2.91" fill="#d40000"/><rect x="0.00" y="8.57" width="39.00" height="2.91" fill="#000"/><rect x="0.00" y="11.43" width="39.00" height="2.91" fill="#d40000"/><rect x="0.00" y="14.29" width="39.00" height="2.91" fill="#ffd200"/><rect x="0.00" y="17.14" width="39.00" height="2.91" fill="#006400"/><path d="M0,0 L13.5,10 L0,20 Z" fill="#fff" stroke="#000" stroke-width="0.5"/><polygon points="5.00,6.20 5.76,8.55 8.23,8.55 6.24,10.00 7.00,12.35 5.00,10.90 3.00,12.35 3.76,10.00 1.77,8.55 4.24,8.55" fill="#d40000"/><rect x="4.2" y="8.6" width="3.2" height="3.2" fill="#f0c020"/></svg>
<svg class="f" style="top:1392.36px;height:26.0px" width="39" height="26.0" viewBox="0 0 39 26.0" preserveAspectRatio="none"><rect x="0.00" y="0.00" width="39.00" height="9.80" fill="#75aadb"/><rect x="0.00" y="9.75" width="39.00" height="1.13" fill="#ffffff"/><rect x="0.00" y="10.83" width="39.00" height="4.38" fill="#000000"/><rect x="0.00" y="15.17" width="39.00" height="1.13" fill="#ffffff"/><rect x="0.00" y="16.25" width="39.00" height="9.80" fill="#75aadb"/></svg>
</body></html>
